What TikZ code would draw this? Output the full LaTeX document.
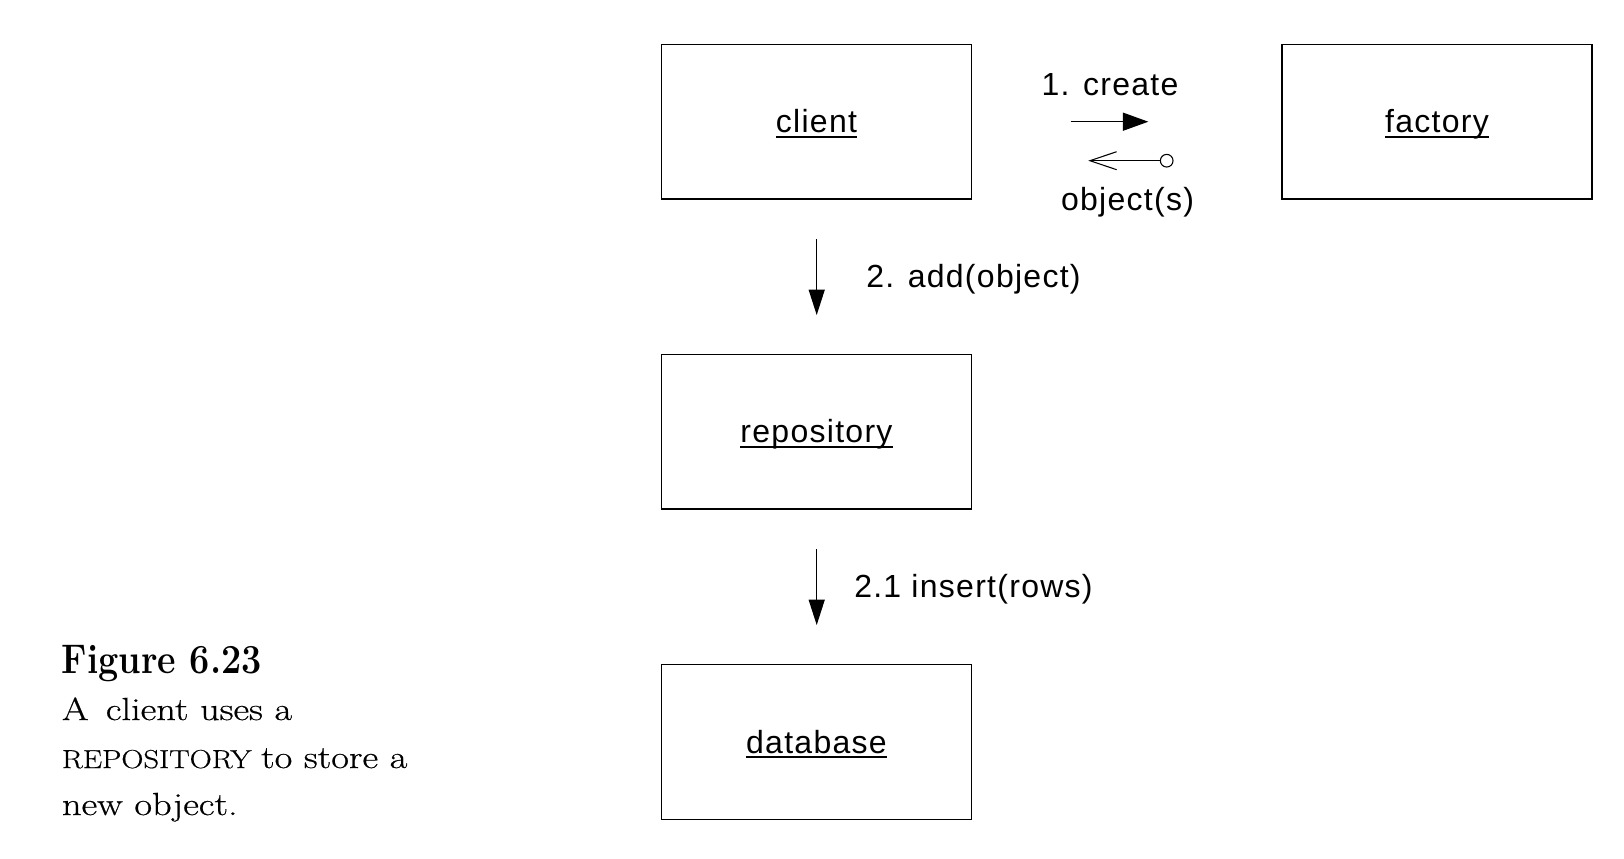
\documentclass[tikz,border=0pt]{standalone}
\usepackage{fontspec}
\usetikzlibrary{arrows.meta}
\newfontfamily\arialf[LetterSpace=4]{Liberation Sans}
\newfontfamily\capfont[FakeBold=0.5]{Latin Modern Roman}
\newsavebox\ulbox
\newcommand\ulabel[1]{\sbox\ulbox{#1}\rlap{\rule[-4pt]{\wd\ulbox}{1.7pt}}\usebox\ulbox}
\begin{document}
\begin{tikzpicture}[x=0.75pt,y=-0.75pt,
  objbox/.style={draw, line width=1.1pt, minimum width=232.8pt, minimum height=116pt,
    inner sep=0pt, text height=17pt, text depth=0.5pt,
    font=\arialf\fontsize{24pt}{28pt}\selectfont},
  msgtext/.style={inner sep=0pt, font=\arialf\fontsize{24pt}{28pt}\selectfont},
  msg/.style={line width=0.9pt, -{Triangle[length=19pt,width=12pt]}},
  hmsg/.style={line width=0.9pt, -{Triangle[length=19pt,width=13.5pt]}},
  retmsg/.style={line width=0.8pt, -{Straight Barb[length=20pt,width=13.5pt]}},
  captitle/.style={inner sep=0pt, anchor=base west, font=\fontsize{31pt}{36pt}\selectfont\bfseries},
  capline/.style={inner sep=0pt, anchor=base west, font=\capfont\fontsize{24pt}{28pt}\selectfont}]
\fill[white] (0,0) rectangle (1624,858);
\useasboundingbox (0,0) rectangle (1624,858);

% objects
\node[objbox] (client) at (816.5,121.8) {\ulabel{client}};
\node[objbox] (factory) at (1437,121.8) {\ulabel{factory}};
\node[objbox] (repository) at (816.5,431.8) {\ulabel{repository}};
\node[objbox] (database) at (816.5,742) {\ulabel{database}};

% message 1: create
\node[msgtext, anchor=base] (createlbl) at (1110,95) {1. create};
\coordinate (cs) at (1070.7,121.7);
\coordinate (ce) at (1148.3,121.7);
\draw[hmsg] (cs) -- (ce);

% return: object(s)
\node[circle, draw, line width=0.8pt, minimum size=9.5pt, inner sep=0pt] (retc) at (1166.7,160.7) {};
\coordinate (rt) at (1088.3,160.7);
\draw[retmsg] (retc.west) -- (rt);
\node[msgtext, anchor=base] (objlbl) at (1127.5,210) {object(s)};

% message 2: add
\coordinate (as) at (816.7,239);
\coordinate (ae) at (816.7,315);
\draw[msg] (as) -- (ae);
\node[msgtext, anchor=base west] (addlbl) at (866,287) {2. add(object)};

% message 2.1: insert
\coordinate (is) at (816.7,549.3);
\coordinate (ie) at (816.7,625);
\draw[msg] (is) -- (ie);
\node[msgtext, anchor=base west] (inslbl) at (854,597) {2.1 insert(rows)};

% caption
\node[captitle] (figtitle) at (61.7,673) {\scalebox{0.87}[1]{Figure 6.23}};
\node[capline] (cap1) at (61.7,720) {\scalebox{1.2}[1]{A\hspace{0.15em} client uses a}};
\node[capline] (cap2) at (61.7,768) {\scalebox{1.18}[1]{\fontsize{19.5pt}{24pt}\selectfont REPOSITORY}\hspace{0.3em}\scalebox{1.2}[1]{to store a}};
\node[capline] (cap3) at (61.7,815) {\scalebox{1.2}[1]{new object.}};
\end{tikzpicture}
\end{document}
